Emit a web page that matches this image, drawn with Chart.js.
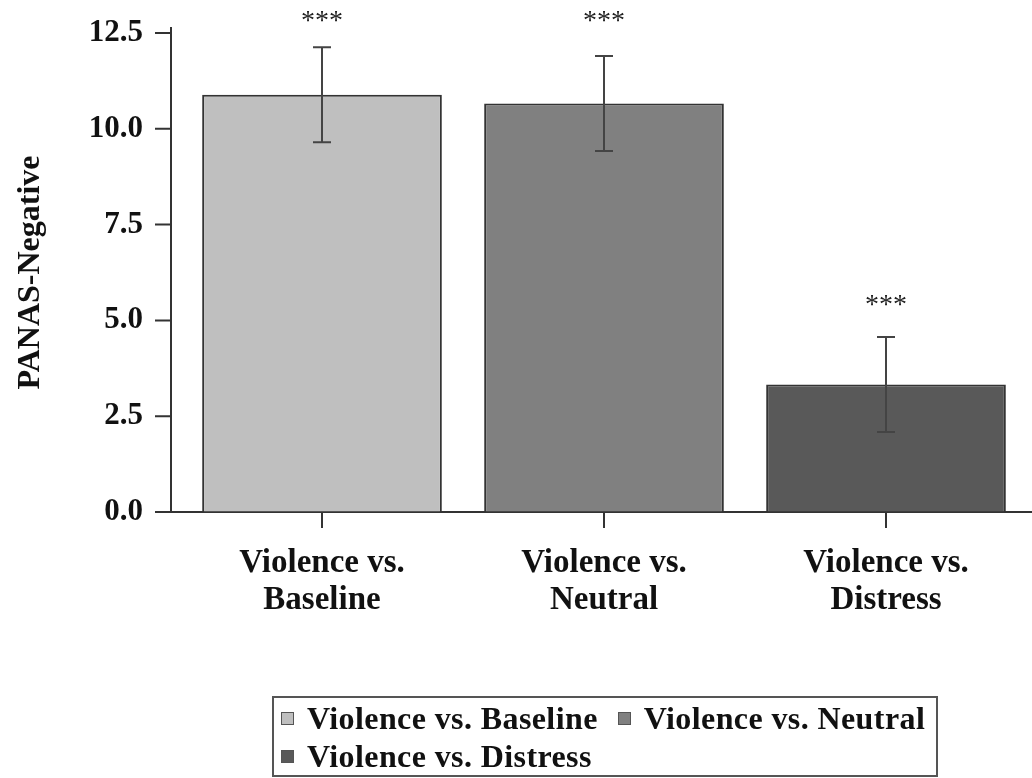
<!DOCTYPE html>
<html>
<head>
<meta charset="utf-8">
<script src="https://cdn.jsdelivr.net/npm/chart.js@4"></script>
<style>
  html, body { margin: 0; padding: 0; background: #fff; }
  #wrap { position: relative; width: 1032px; height: 778px; }
  #legend {
    position: absolute; left: 272px; top: 696px; width: 666px; height: 81px;
    box-sizing: border-box; border: 2px solid #555; padding: 1px 0 0 7px;
    display: flex; flex-wrap: wrap; align-content: flex-start; column-gap: 20px;
    font: bold 32px "Liberation Serif", "Times New Roman", serif; color: #111;
    line-height: 38px; letter-spacing: 0.4px;
  }
  .item { display: flex; align-items: center; white-space: nowrap; }
  .box { width: 11px; height: 11px; border: 1.5px solid #555; margin-right: 13px; }
</style>
</head>
<body>
<div id="wrap">
  <canvas id="myChart" width="1032" height="778"></canvas>
  <div id="legend"></div>
</div>
<script>
const categories = ['Violence vs. Baseline', 'Violence vs. Neutral', 'Violence vs. Distress'];
const means = [10.89, 10.66, 3.33];
const errors = [1.24, 1.24, 1.24];
const stars = ['***', '***', '***'];
const starLevels = [12.9, 12.9, 5.5];
const yTicks = [0, 2.5, 5, 7.5, 10, 12.5];
const barColors = ['#bfbfbf', '#808080', '#595959'];

const serif = '"Liberation Serif", "Times New Roman", serif';

// axis lines, tick marks, error bars and stars
const extras = {
  id: 'extras',
  beforeDatasetsDraw(chart) {
    const { ctx, chartArea: a, scales: { x, y } } = chart;
    const axisX = a.left - 10;
    ctx.save();
    ctx.strokeStyle = '#333';
    ctx.lineWidth = 2;
    ctx.beginPath();
    ctx.moveTo(axisX, a.top - 6);
    ctx.lineTo(axisX, a.bottom);
    ctx.moveTo(axisX - 16, a.bottom);
    ctx.lineTo(chart.width, a.bottom);
    yTicks.forEach(v => {
      const py = y.getPixelForValue(v);
      ctx.moveTo(axisX - 16, py);
      ctx.lineTo(axisX, py);
    });
    categories.forEach((c, i) => {
      const px = x.getPixelForValue(i);
      ctx.moveTo(px, a.bottom);
      ctx.lineTo(px, a.bottom + 16);
    });
    ctx.stroke();
    ctx.restore();
  },
  afterDatasetsDraw(chart) {
    const { ctx, scales: { x, y } } = chart;
    ctx.save();
    ctx.strokeStyle = '#444';
    ctx.lineWidth = 2;
    means.forEach((m, i) => {
      const cx = x.getPixelForValue(i);
      const top = y.getPixelForValue(m + errors[i]);
      const bot = y.getPixelForValue(m - errors[i]);
      ctx.beginPath();
      ctx.moveTo(cx, top); ctx.lineTo(cx, bot);
      ctx.moveTo(cx - 9, top); ctx.lineTo(cx + 9, top);
      ctx.moveTo(cx - 9, bot); ctx.lineTo(cx + 9, bot);
      ctx.stroke();
    });
    ctx.fillStyle = '#222';
    ctx.font = 'normal 28px ' + serif;
    ctx.textAlign = 'center';
    ctx.textBaseline = 'middle';
    stars.forEach((s, i) => {
      ctx.fillText(s, x.getPixelForValue(i), y.getPixelForValue(starLevels[i]) + 4);
    });
    ctx.restore();
  }
};

const ctx = document.getElementById('myChart');
const chart = new Chart(ctx, {
  type: 'bar',
  data: {
    labels: categories.map(c => c.replace(' vs. ', ' vs.|').split('|')),
    datasets: [{
      data: means,
      backgroundColor: barColors,
      borderColor: '#333',
      borderWidth: 2,
      barPercentage: 0.85,
      categoryPercentage: 1.0
    }]
  },
  options: {
    responsive: false,
    animation: false,
    layout: { padding: { top: 33, right: 5, bottom: 146, left: 0 } },
    plugins: {
      legend: { display: false },
      tooltip: { enabled: false }
    },
    scales: {
      x: {
        grid: { display: false, drawTicks: false },
        border: { display: false },
        ticks: {
          padding: 32, color: '#111', maxRotation: 0, autoSkip: false,
          font: { family: serif, size: 33, weight: 'bold', lineHeight: 1.15 }
        },
        afterFit: s => { s.height = 120; }
      },
      y: {
        min: 0,
        max: 12.5,
        afterBuildTicks: s => { s.ticks = yTicks.map(v => ({ value: v })); },
        // invisible tick marks only to push the labels left of the drawn axis
        grid: { drawOnChartArea: false, drawTicks: true, tickLength: 34, color: 'rgba(0,0,0,0)' },
        border: { display: false },
        ticks: {
          padding: 4, color: '#111',
          font: { family: serif, size: 31, weight: 'bold' },
          callback: v => v.toFixed(1)
        },
        title: {
          display: true, text: 'PANAS-Negative', color: '#111',
          font: { family: serif, size: 32, weight: 'bold' },
          padding: { top: 12, bottom: 0 }
        },
        afterFit: s => { s.width = 181; }
      }
    }
  },
  plugins: [extras]
});

// LEGEND
const legend = document.getElementById('legend');
categories.forEach((c, i) => {
  const item = document.createElement('div');
  item.className = 'item';
  const box = document.createElement('span');
  box.className = 'box';
  box.style.background = barColors[i];
  item.append(box);
  const label = document.createElement('span');
  label.textContent = c;
  item.append(label);
  legend.append(item);
});
</script>
</body>
</html>
